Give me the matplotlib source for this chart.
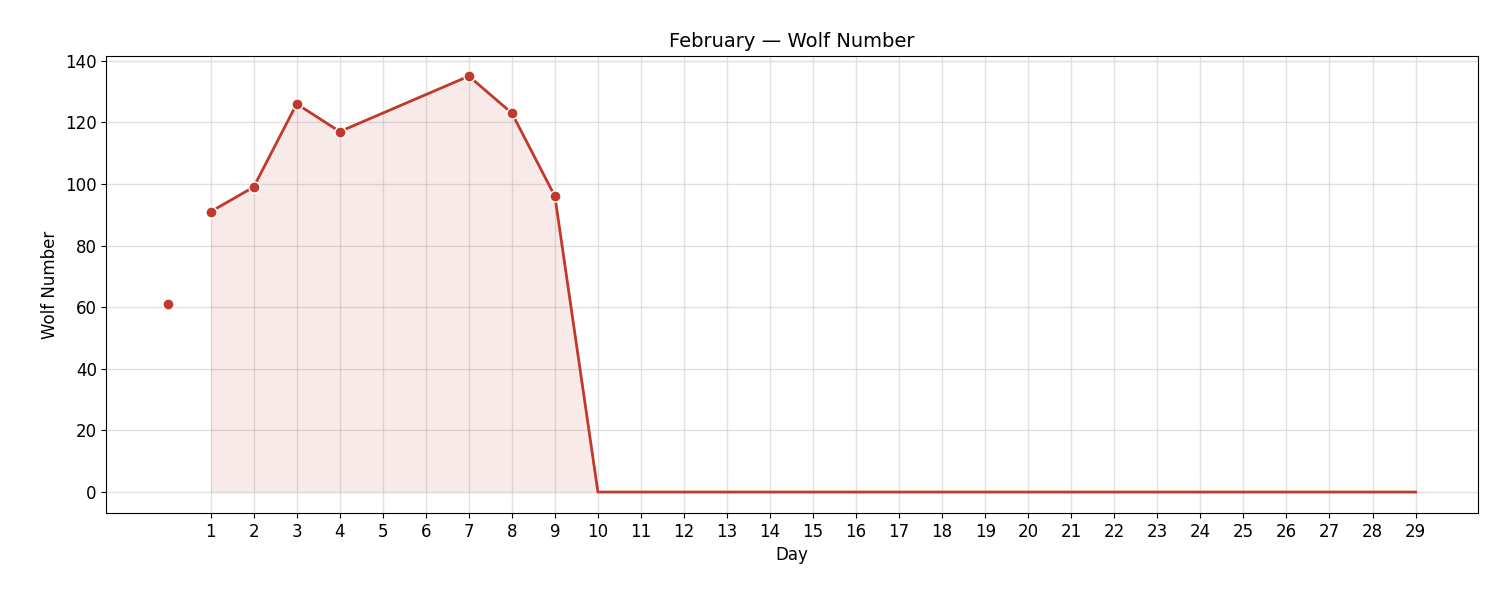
import matplotlib
matplotlib.use("Agg")
import matplotlib.pyplot as plt
import numpy as np

obs_days = [1, 2, 3, 4, 7, 8, 9]
obs_vals = [91, 99, 126, 117, 135, 123, 96]
zero_days = list(range(10, 30))
zero_vals = [0] * len(zero_days)
extra_day = [0]
extra_val = [61]
ticks = list(range(1, 30))

color = "#c0392b"
line_x = obs_days + zero_days
line_y = obs_vals + zero_vals

fig, ax = plt.subplots(figsize=(15, 6), dpi=100)
ax.fill_between(obs_days + [10], obs_vals + [0], 0, color=color, alpha=0.1, linewidth=0)
ax.plot(line_x, line_y, color=color, lw=2, zorder=3)
ax.plot(obs_days, obs_vals, 'o', color=color, mec='white', mew=1, ms=8, zorder=4)
ax.plot(extra_day, extra_val, 'o', color=color, mec='white', mew=1, ms=8, zorder=4)
ax.set_xticks(ticks)
ax.set_xlim(-1.42, 30.44)
ax.set_ylim(-6.8, 141.6)
ax.grid(True, color='#cccccc', alpha=0.6, lw=1)
ax.set_axisbelow(True)
ax.tick_params(labelsize=12)
ax.set_xlabel("Day", fontsize=12)
ax.set_ylabel("Wolf Number", fontsize=12)
ax.set_title("February — Wolf Number", fontsize=14)
fig.subplots_adjust(left=0.071, right=0.985, top=0.907, bottom=0.145)
fig.savefig("out.png")
